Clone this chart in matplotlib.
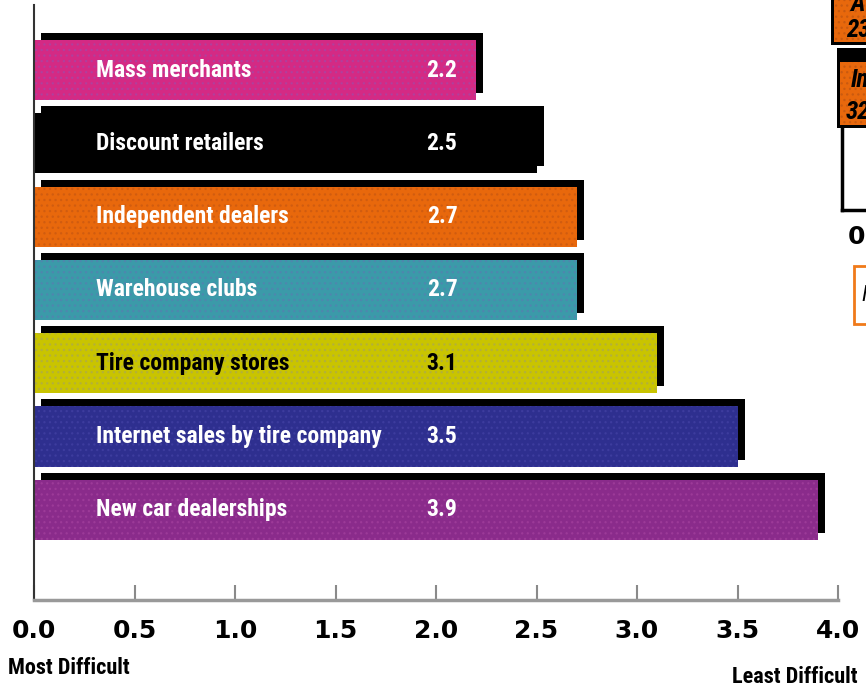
import matplotlib
matplotlib.use('Agg')
import matplotlib.pyplot as plt
import matplotlib.patches as mpatches
import matplotlib.transforms as mtransforms

# Ratings: 0 = most difficult, 4 = least difficult
channels = ['Mass merchants', 'Discount retailers', 'Independent dealers', 'Warehouse clubs',
            'Tire company stores', 'Internet sales by tire company', 'New car dealerships']
scores = [2.2, 2.5, 2.7, 2.7, 3.1, 3.5, 3.9]
score_labels = ['2.2', '2.5', '2.7', '2.7', '3.1', '3.5', '3.9']
x_ticks = [0.0, 0.5, 1.0, 1.5, 2.0, 2.5, 3.0, 3.5, 4.0]

bar_colors = ['#d42a84', '#000000', '#e8680c', '#3b9aa9', '#c9c400', '#2e2f8f', '#8a2b8b']
dot_colors = ['#b23f9c', '#000000', '#d05c10', '#4f86ae', '#b3b03a', '#3d3c9e', '#9c3a98']
text_colors = ['white', 'white', 'white', 'white', 'black', 'white', 'white']

W, H = 866, 689
fig = plt.figure(figsize=(W / 100, H / 100), dpi=100)
ax = fig.add_axes([34 / W, (H - 600) / H, 804 / W, 595 / H])

cond = ['Roboto Condensed', 'DejaVu Sans']
plt.rcParams['hatch.linewidth'] = 0.9

ypos = list(range(len(channels)))

# drop shadow: same bars shifted up and to the right
shadow = ax.transData + mtransforms.ScaledTranslation(0.07, 0.07, fig.dpi_scale_trans)
ax.barh(ypos, scores, height=0.82, color='black', linewidth=0, transform=shadow, zorder=1)

for i, (s, c, d) in enumerate(zip(scores, bar_colors, dot_colors)):
    ax.barh(i, s, height=0.82, color=c, edgecolor=d, hatch='...', linewidth=0, zorder=2)
    ax.text(0.31, i, channels[i], color=text_colors[i], fontsize=17, fontweight='bold',
            family=cond, va='center', ha='left', zorder=3)
    ax.text(2.03, i, score_labels[i], color=text_colors[i], fontsize=17, fontweight='bold',
            family=cond, va='center', ha='center', zorder=3)

ax.set_xlim(0, 4)
ax.set_ylim(7.23, -0.887)
ax.set_yticks([])
ax.set_xticks(x_ticks)
ax.set_xticklabels(['%.1f' % t for t in x_ticks], fontsize=18, fontweight='bold')
ax.tick_params(axis='x', direction='in', length=11, width=1.5, color='#8a8a8a', pad=14)

for side in ['top', 'right']:
    ax.spines[side].set_visible(False)
ax.spines['left'].set_color('#333333')
ax.spines['left'].set_linewidth(1.5)
ax.spines['bottom'].set_color('#999999')
ax.spines['bottom'].set_linewidth(2.5)
for lab in ax.get_xticklabels():
    lab.set_clip_on(False)

fig.text(8 / W, 1 - 668 / H, 'Most Difficult', fontsize=16, fontweight='bold',
         family=cond, ha='left', va='center')
fig.text(858 / W, 1 - 677 / H, 'Least Difficult', fontsize=16, fontweight='bold',
         family=cond, ha='right', va='center')


# edge of the neighbouring panel
def px(x, y):
    return (x / W, 1 - y / H)


def box(x0, y0, x1, y1, **kw):
    r = mpatches.Rectangle(px(x0, y1), (x1 - x0) / W, (y1 - y0) / H,
                           transform=fig.transFigure, **kw)
    fig.add_artist(r)


box(831, -2, 868, 45, facecolor='black', linewidth=0)
box(834, -2, 868, 42, facecolor='#e8680c', edgecolor='#c95a10', hatch='...', linewidth=0)
box(837, 48, 868, 128, facecolor='black', linewidth=0)
box(840, 62, 868, 125, facecolor='#e8680c', edgecolor='#c95a10', hatch='...', linewidth=0)
fig.add_artist(plt.Line2D([842 / W, 842 / W], [1 - 128 / H, 1 - 210 / H], color='black', lw=2.5))
fig.add_artist(plt.Line2D([842 / W, 1.0], [1 - 210 / H, 1 - 210 / H], color='black', lw=2.5))
box(854, 266, 870, 324, facecolor='white', edgecolor='#f07a1a', linewidth=2)
frag = dict(fontsize=18, fontweight='bold', style='italic', family=cond, va='center')
fig.text(*px(850, 4), 'A', **frag)
fig.text(*px(846, 30), '23', **frag)
fig.text(*px(851, 80), 'In', **frag)
fig.text(*px(846, 112), '32', **frag)
fig.text(*px(848, 237), '0', fontsize=18, fontweight='bold', va='center')
fig.text(*px(861, 295), 'I', fontsize=16, style='italic', family=cond, va='center')

plt.savefig('out.png', dpi=100)
